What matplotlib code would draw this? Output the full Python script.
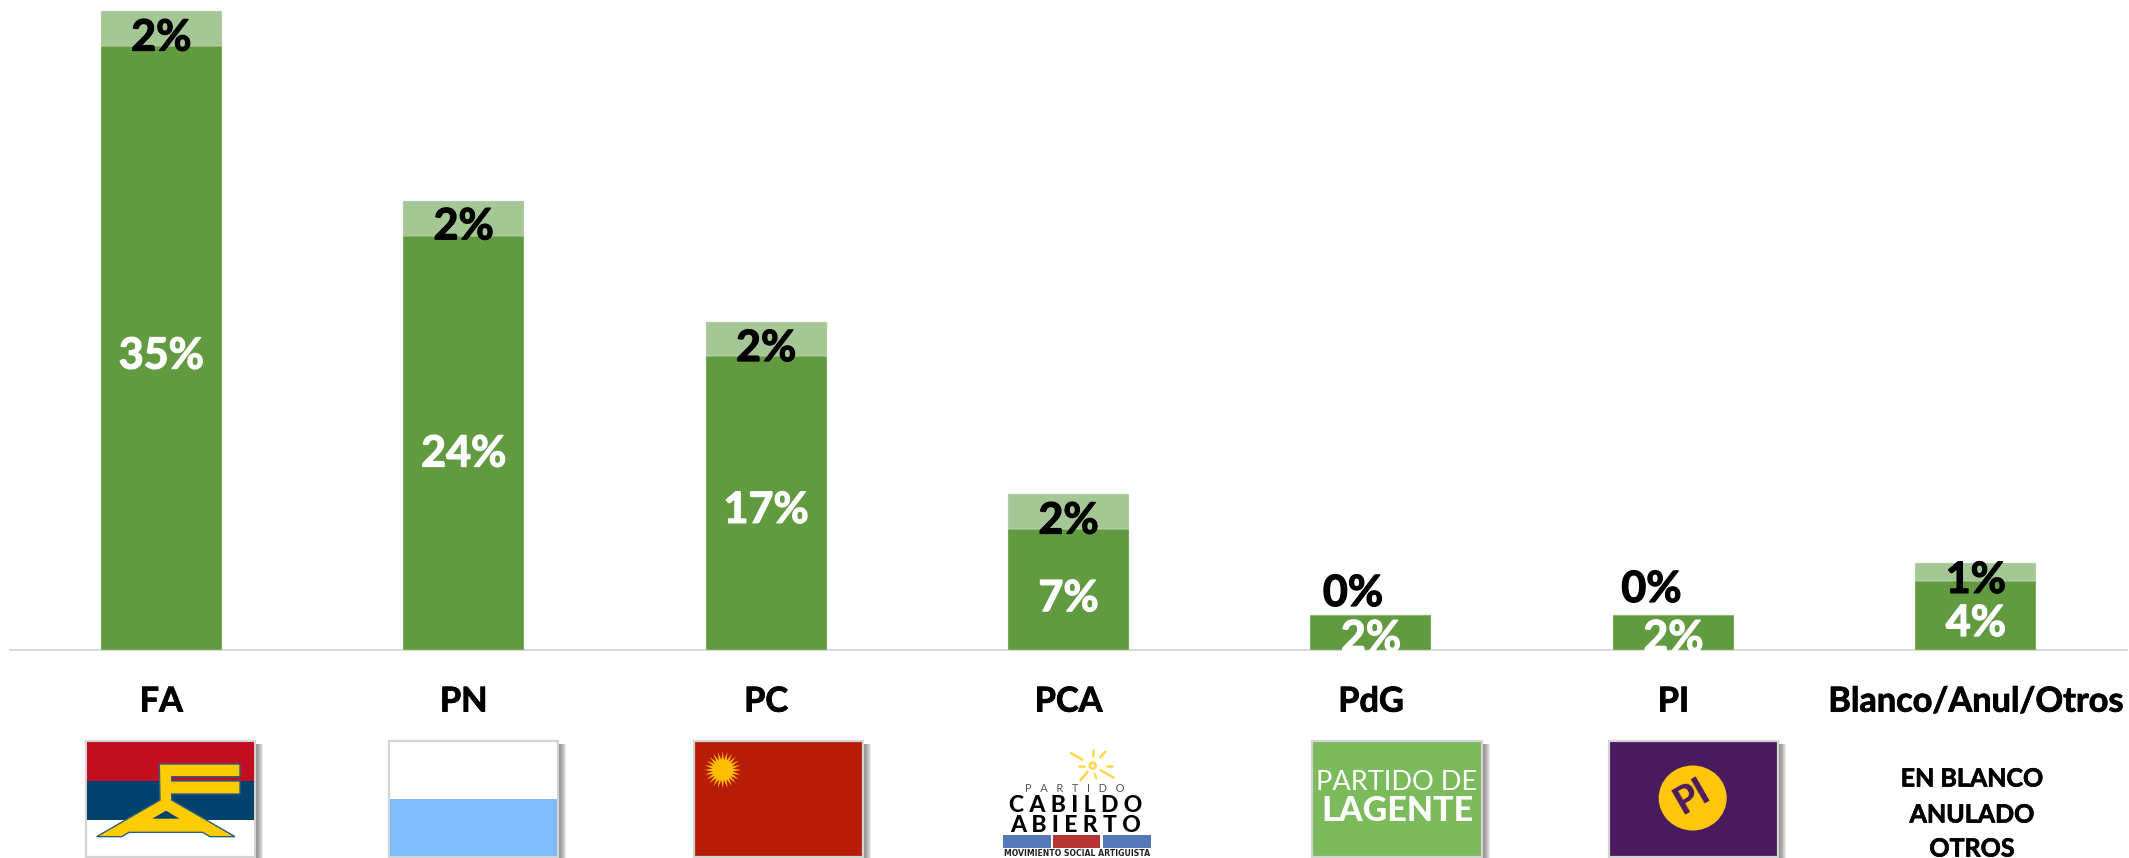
import numpy as np
import matplotlib
matplotlib.use('Agg')
import matplotlib.pyplot as plt
import matplotlib.patheffects as pe
from matplotlib.patches import Rectangle, Polygon, Ellipse

plt.rcParams['font.family'] = ['Lato', 'DejaVu Sans']

parties = ['FA', 'PN', 'PC', 'PCA', 'PdG', 'PI', 'Blanco/Anul/Otros']
firme = [35, 24, 17, 7, 2, 2, 4]
duda = [2, 2, 2, 2, 0, 0, 1]

# label nudges in pixels, (right, up)
firme_nudge = [(0, -8), (0, -11), (0, -7), (0, -9), (0, -6), (0, -6), (0, -8)]
duda_nudge = [(0, -9), (0, -8), (0, -9), (0, -9), (-18, 22), (-22, 26), (0, -8)]

GREEN = '#619A3F'
LIGHT = '#A5C795'
W, H = 2129, 858
BASE = 649.5


def heavy(color, w=0.9):
    # Lato bold is a little thinner than the reference face
    return [pe.withStroke(linewidth=w, foreground=color)]


fig = plt.figure(figsize=(W/100, H/100), dpi=100)
ax = fig.add_axes([10/W, 1 - BASE/H, 2117/W, BASE/H])
x = np.arange(len(parties))
ax.bar(x, firme, width=0.4, color=GREEN, edgecolor='#D5E3CC', linewidth=0.3, zorder=2)
ax.bar(x, duda, width=0.4, bottom=firme, color=LIGHT, edgecolor='#D5E3CC', linewidth=0.3, zorder=2)
ax.set_xlim(-0.5, 6.5)
ax.set_ylim(0, BASE/17.25)
for s in ['top', 'left', 'right']:
    ax.spines[s].set_visible(False)
ax.spines['bottom'].set_color('#D9D9D9')
ax.spines['bottom'].set_linewidth(1.4)
ax.spines['bottom'].set_zorder(1)
ax.set_yticks([])
ax.set_xticks(x)
ax.set_xticklabels(parties, fontsize=24.7, fontweight='bold', color='black')
for t in ax.get_xticklabels():
    t.set_path_effects(heavy('black', 0.6))
ax.tick_params(axis='x', length=0, pad=26)

for i in x:
    ax.annotate(f'{firme[i]}%', (i, firme[i]/2), xytext=firme_nudge[i], textcoords='offset pixels',
                ha='center', va='center', fontsize=31, fontweight='bold', color='white', zorder=5,
                annotation_clip=False, path_effects=heavy('white'))
    ax.annotate(f'{duda[i]}%', (i, firme[i] + duda[i]/2), xytext=duda_nudge[i], textcoords='offset pixels',
                ha='center', va='center', fontsize=31, fontweight='bold', color='black', zorder=5,
                annotation_clip=False, path_effects=heavy('black'))

# logos, drawn in pixel coordinates of the reference
lg = fig.add_axes([0, 0, 1, 1], facecolor='none')
lg.set_xlim(0, W)
lg.set_ylim(H, 0)
lg.axis('off')


def shadow(x0, y0, x1, y1):
    for k in range(1, 9):
        lg.add_patch(Rectangle((x0 + 3, y0 + 3), x1 - x0 - 3 + k, y1 - y0 + k,
                               fc='#555555', ec='none', alpha=0.13, zorder=1))


def flag(x0, y0, x1, y1, color):
    shadow(x0, y0, x1, y1)
    lg.add_patch(Rectangle((x0, y0), x1 - x0, y1 - y0, fc=color, ec='#D4D4D4', lw=1.6, zorder=2))


# FA
flag(86, 741, 255, 857, 'white')
lg.add_patch(Rectangle((87, 742), 167, 39, fc='#C20E20', ec='none', zorder=3))
lg.add_patch(Rectangle((87, 781), 167, 38.5, fc='#03426E', ec='none', zorder=3))
fa = [(298, 132), (540, 132), (540, 170), (335, 170), (335, 183), (540, 183), (540, 222), (335, 222),
      (335, 240), (525, 350), (450, 350), (428, 337), (207, 337), (185, 350), (110, 350), (300, 240)]
hole = [(318, 272), (358, 296), (277, 296)]
lg.add_patch(Polygon([(60 + a/3, 720 + b/3) for a, b in fa], fc='#FFCC00', ec='#2A5F80', lw=1, zorder=4))
lg.add_patch(Polygon([(60 + a/3, 720 + b/3) for a, b in hole], fc='#03426E', ec='none', zorder=5))

# PN
flag(389, 741, 558, 857, 'white')
lg.add_patch(Rectangle((390, 799), 167, 57, fc='#7FBBFF', ec='none', zorder=3))

# PC
flag(694, 741, 863, 857, '#B71C07')
ang = np.linspace(0, 2*np.pi, 49)[:-1]
rad = np.where(np.arange(48) % 2 == 0, 18.5, 10)
lg.add_patch(Polygon(np.c_[722.7 + rad*np.cos(ang), 770 + rad*np.sin(ang)], fc='#FFBF00', ec='none', zorder=3))

# Cabildo Abierto
for ang2, r0, r1 in [(-150, 12, 25), (-90, 10, 16), (-48, 11, 19), (0, 14, 19), (30, 9, 24),
                     (75, 9, 13), (130, 8, 19), (180, 9, 14)]:
    t = np.radians(ang2)
    lg.plot([1092.7 + r0*np.cos(t), 1092.7 + r1*np.cos(t)], [765.7 + r0*np.sin(t), 765.7 + r1*np.sin(t)],
            color='#FFD84A', lw=1.8, solid_capstyle='round', zorder=3)
lg.add_patch(Ellipse((1092.7, 765.7), 6, 6, fc='white', ec='#FFD84A', lw=1.8, zorder=3))
lg.text(1075, 788, 'P   A   R   T   I   D   O', ha='center', va='center', fontsize=8, color='#555555', zorder=3)
lg.text(1076, 805.5, 'C A B I L D O', ha='center', va='center', fontsize=16.5, fontweight='black', color='black', zorder=3)
lg.text(1076, 825.5, 'A B I E R T O', ha='center', va='center', fontsize=16.5, fontweight='black', color='black', zorder=3)
for x0, x1, c in [(1003, 1051, '#5578B8'), (1053, 1100, '#B53333'), (1103, 1151, '#5578B8')]:
    lg.add_patch(Rectangle((x0, 835), x1 - x0, 13, fc=c, ec='none', zorder=3))
lg.text(1077, 853.5, 'MOVIMIENTO SOCIAL ARTIGUISTA', ha='center', va='center', fontsize=5.6,
        fontweight='bold', family='DejaVu Sans', color='#222222', zorder=3)

# PdG
flag(1312, 741, 1482, 857, '#7BBB5B')
lg.text(1397, 782, 'PARTIDO DE', ha='center', va='center', fontsize=19.5, fontweight='normal', color='white', zorder=3)
lg.text(1397, 811, 'LAGENTE', ha='center', va='center', fontsize=24.5, fontweight='black', color='white', zorder=3)

# PI
flag(1609, 741, 1778, 857, '#4A1A5E')
lg.add_patch(Ellipse((1692.7, 798), 68, 65, fc='#FFC60B', ec='none', zorder=3))
lg.text(1692, 797, 'PI', rotation=30, ha='center', va='center', rotation_mode='anchor', fontsize=27,
        fontweight='black', color='#4A1A5E', zorder=4)

# Blanco
for line, yy in zip(['EN BLANCO', 'ANULADO', 'OTROS'], [779, 815, 849]):
    lg.text(1972, yy, line, ha='center', va='center', fontsize=18, fontweight='bold', color='black', zorder=3,
            path_effects=heavy('black', 0.5))

fig.savefig('out.png', dpi=100)
